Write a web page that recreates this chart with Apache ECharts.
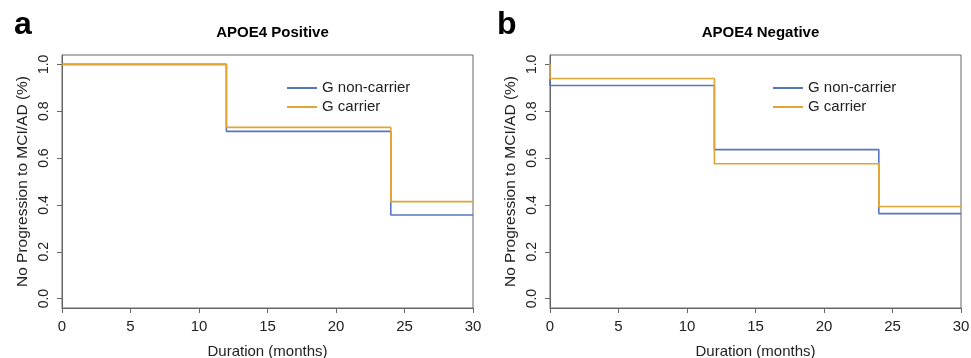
<!DOCTYPE html>
<html>
<head>
<meta charset="utf-8">
<script src="https://cdn.jsdelivr.net/npm/echarts@6/dist/echarts.min.js"></script>
<style>
  html, body { margin: 0; padding: 0; background: #fff; }
  #main { width: 971px; height: 358px; }
</style>
</head>
<body>
<div id="main"></div>
<script>
// Kaplan-Meier steps
var panelTitles = ['APOE4 Positive', 'APOE4 Negative'];
var panelLetters = ['a', 'b'];
var seriesNames = ['G non-carrier', 'G carrier'];

var posTimes = [0, 12, 24, 30];
var posNonCarrier = [1.0, 0.714, 0.357, 0.357];
var posCarrier = [1.0, 0.731, 0.414, 0.414];

var negTimes = [0, 0, 12, 24, 30];
var negNonCarrier = [1.0, 0.910, 0.636, 0.363, 0.363];
var negCarrier = [1.0, 0.940, 0.576, 0.393, 0.393];

var yTicks = [0, 0.2, 0.4, 0.6, 0.8, 1.0];

var colors = ['#5677c0', '#e2a535'];
var font = 'Liberation Sans, Arial, Helvetica, sans-serif';

function pairs(xs, ys) {
    return xs.map(function (x, i) { return [x, ys[i]]; });
}

function makeXAxis(idx) {
    return {
        type: 'value',
        gridIndex: idx,
        min: 0,
        max: 30,
        interval: 5,
        name: 'Duration (months)',
        nameLocation: 'middle',
        nameGap: 36,
        nameTextStyle: { fontFamily: font, fontSize: 15, color: '#222' },
        axisLine: { show: true, onZero: false, lineStyle: { color: '#666', width: 1 } },
        axisTick: { show: true, length: 5, lineStyle: { color: '#666' } },
        axisLabel: { fontFamily: font, fontSize: 15, color: '#222', margin: 11 },
        splitLine: { show: false }
    };
}

function makeYAxis(idx) {
    return {
        type: 'value',
        gridIndex: idx,
        min: -0.04,
        max: 1.04,
        name: 'No Progression to MCI/AD (%)',
        nameLocation: 'middle',
        nameGap: 31,
        nameTextStyle: { fontFamily: font, fontSize: 15.5, color: '#222' },
        axisLine: { show: true, onZero: false, lineStyle: { color: '#666', width: 1 } },
        axisTick: { show: true, length: 5, customValues: yTicks, lineStyle: { color: '#666' } },
        axisLabel: {
            customValues: yTicks,
            rotate: 90,
            margin: 11,
            fontFamily: font,
            fontSize: 14,
            color: '#222',
            formatter: function (v) { return v.toFixed(1); }
        },
        splitLine: { show: false }
    };
}

function makeLegend(left) {
    return {
        orient: 'vertical',
        left: left,
        top: 75,
        itemWidth: 30,
        itemHeight: 2,
        itemGap: 3,
        icon: 'rect',
        data: seriesNames,
        textStyle: { fontFamily: font, fontSize: 15, color: '#222', lineHeight: 16 }
    };
}

function makeSeries(name, data, idx, color) {
    return {
        name: name,
        type: 'line',
        step: 'end',
        xAxisIndex: idx,
        yAxisIndex: idx,
        data: data,
        showSymbol: false,
        symbol: 'none',
        silent: true,
        animation: false,
        lineStyle: { color: color, width: 1.6 },
        itemStyle: { color: color }
    };
}

var chartDom = document.getElementById('main');
var myChart = echarts.init(chartDom);
var option;

option = {
    backgroundColor: '#fff',
    animation: false,
    title: [
        { text: panelLetters[0], left: 9, top: 4, textStyle: { fontFamily: font, fontSize: 32, fontWeight: 'bold', color: '#000' } },
        { text: panelLetters[1], left: 492, top: 4, textStyle: { fontFamily: font, fontSize: 32, fontWeight: 'bold', color: '#000' } },
        { text: panelTitles[0], left: 267.5, top: 20, textAlign: 'center', textStyle: { fontFamily: font, fontSize: 15, fontWeight: 'bold', color: '#000' } },
        { text: panelTitles[1], left: 755.5, top: 20, textAlign: 'center', textStyle: { fontFamily: font, fontSize: 15, fontWeight: 'bold', color: '#000' } }
    ],
    legend: [makeLegend(282), makeLegend(768)],
    grid: [
        { left: 62, top: 55, width: 411, height: 253, outerBoundsMode: 'none', containLabel: false, show: true, borderColor: '#666', borderWidth: 1, backgroundColor: 'transparent' },
        { left: 550, top: 55, width: 411, height: 253, outerBoundsMode: 'none', containLabel: false, show: true, borderColor: '#666', borderWidth: 1, backgroundColor: 'transparent' }
    ],
    xAxis: [makeXAxis(0), makeXAxis(1)],
    yAxis: [makeYAxis(0), makeYAxis(1)],
    series: [
        makeSeries(seriesNames[0], pairs(posTimes, posNonCarrier), 0, colors[0]),
        makeSeries(seriesNames[1], pairs(posTimes, posCarrier), 0, colors[1]),
        makeSeries(seriesNames[0], pairs(negTimes, negNonCarrier), 1, colors[0]),
        makeSeries(seriesNames[1], pairs(negTimes, negCarrier), 1, colors[1])
    ]
};

option && myChart.setOption(option);
</script>
</body>
</html>
